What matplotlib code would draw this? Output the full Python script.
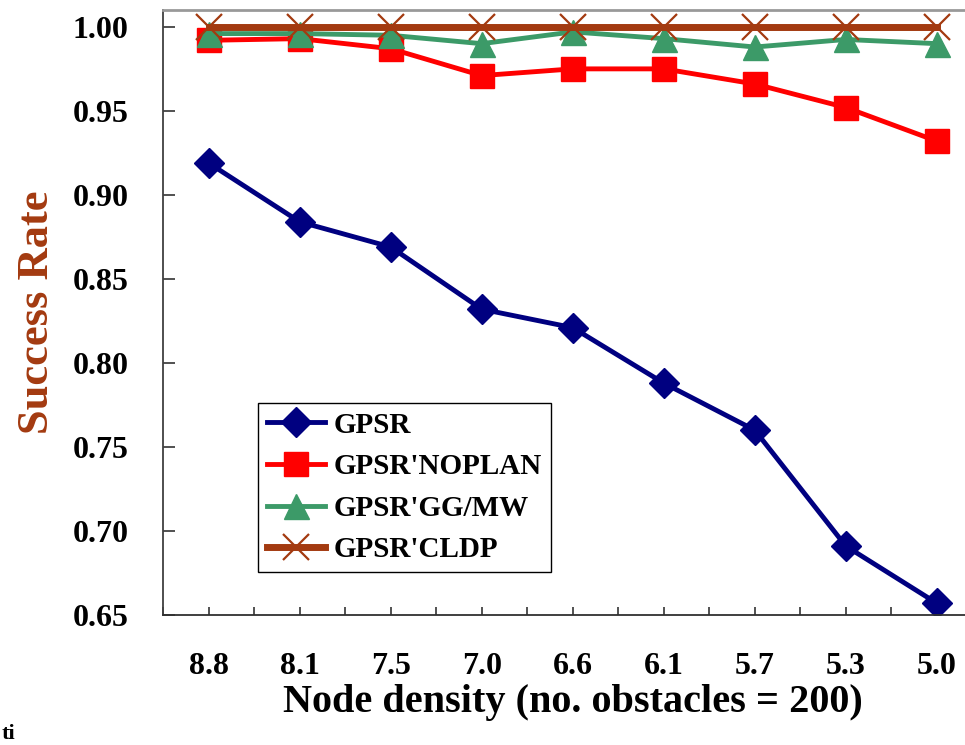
import numpy as np
import matplotlib
matplotlib.use("Agg")
import matplotlib.pyplot as plt

# données
densites = ["8.8", "8.1", "7.5", "7.0", "6.6", "6.1", "5.7", "5.3", "5.0"]
gpsr = [0.919, 0.884, 0.869, 0.832, 0.821, 0.788, 0.760, 0.691, 0.657]
gpsr_noplan = [0.992, 0.993, 0.987, 0.971, 0.975, 0.975, 0.966, 0.952, 0.932]
gpsr_ggmw = [0.996, 0.996, 0.995, 0.990, 0.997, 0.993, 0.988, 0.9925, 0.990]
gpsr_cldp = [1.0, 1.0, 1.0, 1.0, 1.0, 1.0, 1.0, 1.0, 1.0]
noms = ["GPSR", "GPSR'NOPLAN", "GPSR'GG/MW", "GPSR'CLDP"]

plt.rcParams["font.family"] = ["Liberation Serif", "DejaVu Serif"]
plt.rcParams["font.weight"] = "bold"
plt.rcParams["axes.labelweight"] = "bold"

fig = plt.figure(figsize=(9.65, 7.45), dpi=100)
# l'axe dépasse à droite (image recadrée)
ax = fig.add_axes([0.169, 0.1745, 0.849, 0.812])

x = np.arange(len(densites))
ax.plot(x, gpsr, color="#000080", lw=3.5, marker="D", ms=15, label=noms[0])
ax.plot(x, gpsr_noplan, color="#FF0000", lw=3.5, marker="s", ms=17, label=noms[1])
ax.plot(x, gpsr_ggmw, color="#3C9A68", lw=3.5, marker="^", ms=18, label=noms[2])
ax.plot(x, gpsr_cldp, color="#A33A10", lw=5, marker="x", ms=19, mew=1.6, label=noms[3])

ax.set_xlim(-0.5, len(densites) - 0.5)
ax.set_ylim(0.65, 1.01)
ax.set_xticks(x)
ax.set_xticklabels(densites)
ax.set_xticks(np.arange(-0.5, len(densites), 1), minor=True)
ax.set_yticks(np.arange(0.65, 1.001, 0.05))
ax.set_yticklabels(["%.2f" % v for v in np.arange(0.65, 1.001, 0.05)])

ax.tick_params(axis="x", which="both", direction="in", length=6, width=1.2,
               labelsize=23, pad=27, color="#333333")
ax.tick_params(axis="y", direction="in", length=8.5, width=1.2,
               labelsize=23, pad=25, color="#333333")

ax.spines["right"].set_visible(False)
ax.spines["top"].set_color("#999999")
ax.spines["top"].set_linewidth(2)
ax.spines["left"].set_color("#404040")
ax.spines["left"].set_linewidth(1.3)
ax.spines["bottom"].set_color("#303030")
ax.spines["bottom"].set_linewidth(1.3)

ax.set_xlabel("Node density (no. obstacles = 200)", fontsize=29, labelpad=2)
ax.set_ylabel("Success Rate", fontsize=32, color="#A33A10", labelpad=11)

leg = ax.legend(loc="lower left", bbox_to_anchor=(0.116, 0.071), borderaxespad=0,
                fontsize=21, handlelength=2.0, labelspacing=0.5, handletextpad=0.3,
                fancybox=False, framealpha=1, edgecolor="black", borderpad=0.3)
leg.get_frame().set_linewidth(1.0)

# fragment de texte en bas à gauche
fig.text(0.002, 0.001, "ti", fontsize=16, va="bottom", ha="left")

fig.savefig("out.png", dpi=100)
